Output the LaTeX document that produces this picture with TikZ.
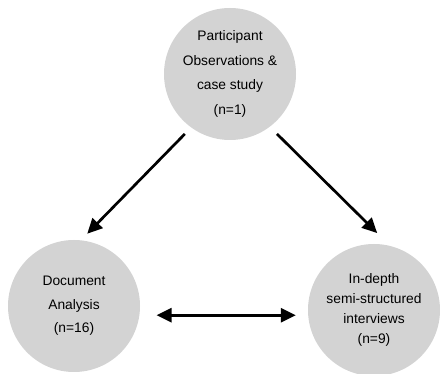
\documentclass[tikz,border=0pt]{standalone}
\usepackage{fontspec}
\setmainfont{Liberation Sans}
\usetikzlibrary{arrows.meta}
\definecolor{discfill}{HTML}{D3D3D3}
\begin{document}
\begin{tikzpicture}[x=1pt,y=-1pt,
  disc/.style={circle, fill=discfill, draw=none, minimum size=132pt, inner sep=0pt,
    align=center, font=\fontsize{13.8pt}{24.6pt}\selectfont},
  arr/.style={line width=2.7pt, -{Triangle[length=15pt,width=14pt]}},
  dblarr/.style={line width=2.7pt, {Triangle[length=15pt,width=14pt]}-{Triangle[length=15pt,width=14pt]}}]
  \useasboundingbox (0,0) rectangle (440,374);
  % the three data sources
  \node[disc] (obs) at (230,74) {Participant\\Observations \&\\case study\\(n=1)};
  \node[disc, font=\fontsize{13.8pt}{23.5pt}\selectfont] (doc) at (74,306) {Document\\Analysis\\(n=16)};
  \node[disc, font=\fontsize{13.8pt}{19.8pt}\selectfont] (int) at (374,310) {In-depth\\semi-structured\\interviews\\(n=9)};
  % links between them
  \draw[arr, shorten <=9pt, shorten >=9pt] (obs.234) -- (doc.84);
  \draw[arr, shorten <=10pt, shorten >=18pt] (obs.307) -- (int.76);
  \draw[dblarr, shorten <=17pt, shorten >=12pt] (doc.-8) -- (doc.-8 -| int.west);
\end{tikzpicture}
\end{document}
